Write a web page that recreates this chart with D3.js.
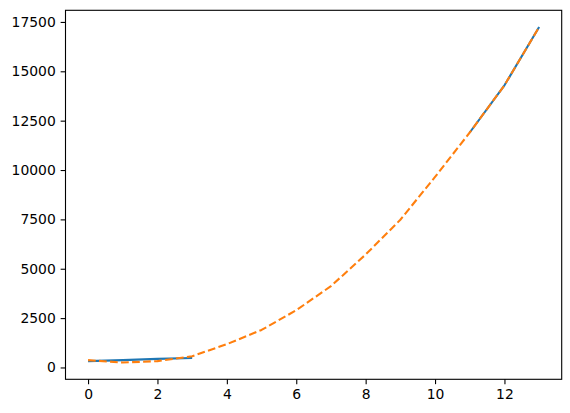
<!DOCTYPE html>
<html>
<head>
<meta charset="utf-8">
<script src="https://cdn.jsdelivr.net/npm/d3@7"></script>
<style>
  html, body { margin: 0; padding: 0; background: #fff; }
  svg { display: block; }
  text { font-family: "DejaVu Sans", sans-serif; font-size: 13.9px; fill: #000; }
</style>
</head>
<body>
<svg id="chart" width="570" height="413"></svg>
<script>
const xValues = [0, 1, 2, 3, 4, 5, 6, 7, 8, 9, 10, 11, 12, 13];
const blueValues = [320, 370, 435, 480, null, null, null, null, null, null, null, 11900, 14290, 17240];
const orangeValues = [370, 250, 320, 570, 1180, 1900, 2900, 4120, 5720, 7480, 9650, 11900, 14290, 17240];
const xTicks = [0, 2, 4, 6, 8, 10, 12];
const yTicks = [0, 2500, 5000, 7500, 10000, 12500, 15000, 17500];

const svg = d3.select("#chart");
const L = 65.5, R = 561.7, T = 10.3, B = 379.3;

const allY = orangeValues.concat(blueValues.filter(v => v != null));
const yMin = d3.min(allY), yMax = d3.max(allY);
const yPad = (yMax - yMin) * 0.05;
const xMin = d3.min(xValues), xMax = d3.max(xValues);
const xPad = (xMax - xMin) * 0.05;

const x = d3.scaleLinear().domain([xMin - xPad, xMax + xPad]).range([L, R]);
const y = d3.scaleLinear().domain([yMin - yPad, yMax + yPad]).range([B, T]);

const tickLen = 4.86, pad = 4.86;

// x axis
const xAxis = d3.axisBottom(x).tickValues(xTicks).tickSize(tickLen).tickPadding(pad).tickFormat(d3.format("d"));
const gx = svg.append("g").attr("transform", `translate(0,${B})`).call(xAxis);
gx.select(".domain").remove();
gx.selectAll("line").attr("stroke", "#000").attr("stroke-width", 1.1);
gx.selectAll("text").attr("font-family", "DejaVu Sans").attr("font-size", 13.9).attr("fill", "#000");

// y axis
const yAxis = d3.axisLeft(y).tickValues(yTicks).tickSize(tickLen).tickPadding(pad).tickFormat(d3.format("d"));
const gy = svg.append("g").attr("transform", `translate(${L},0)`).call(yAxis);
gy.select(".domain").remove();
gy.selectAll("line").attr("stroke", "#000").attr("stroke-width", 1.1);
gy.selectAll("text").attr("font-family", "DejaVu Sans").attr("font-size", 13.9).attr("fill", "#000");

// clip
svg.append("clipPath").attr("id", "clip").append("rect")
  .attr("x", L).attr("y", T).attr("width", R - L).attr("height", B - T);

const line = d3.line()
  .defined(d => d[1] != null)
  .x(d => x(d[0])).y(d => y(d[1]));

const plot = svg.append("g").attr("clip-path", "url(#clip)");

plot.append("path")
  .datum(xValues.map((v, i) => [v, blueValues[i]]))
  .attr("d", line)
  .attr("fill", "none")
  .attr("stroke", "#1f77b4")
  .attr("stroke-width", 2.08)
  .attr("stroke-linecap", "butt")
  .attr("stroke-linejoin", "round");

plot.append("path")
  .datum(xValues.map((v, i) => [v, orangeValues[i]]))
  .attr("d", line)
  .attr("fill", "none")
  .attr("stroke", "#ff7f0e")
  .attr("stroke-width", 2.08)
  .attr("stroke-dasharray", "7.7,3.33")
  .attr("stroke-linecap", "butt")
  .attr("stroke-linejoin", "round");

// frame
svg.append("rect")
  .attr("x", L).attr("y", T).attr("width", R - L).attr("height", B - T)
  .attr("fill", "none").attr("stroke", "#000").attr("stroke-width", 1.1);
</script>
</body>
</html>
